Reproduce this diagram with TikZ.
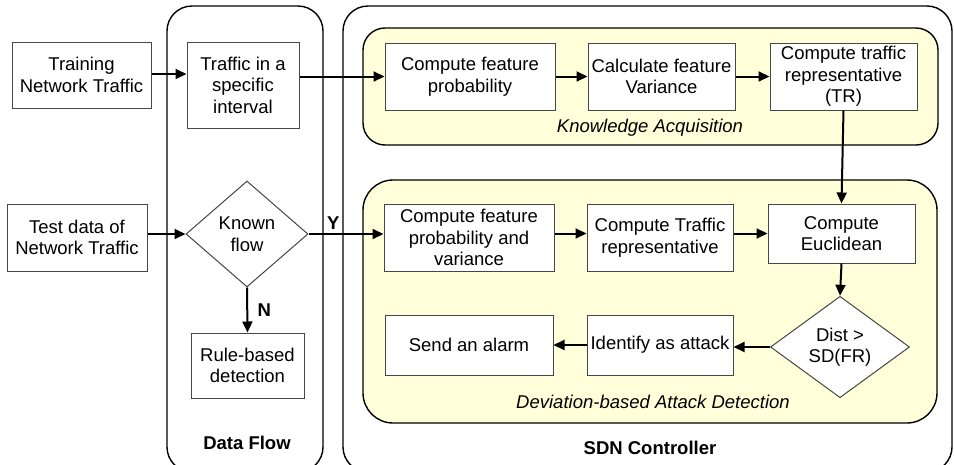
\documentclass[tikz,border=0pt]{standalone}
\usepackage{fontspec}
\setmainfont{Liberation Sans}
\usetikzlibrary{shapes.geometric,arrows.meta}
\definecolor{paleyel}{RGB}{255,255,217}
\definecolor{boxline}{RGB}{70,70,70}
\begin{document}
\begin{tikzpicture}[x=1pt,y=-1pt,
  every node/.style={font=\fontsize{18.5}{21.5}\selectfont},
  stepbox/.style={draw=boxline,line width=1pt,fill=white,rectangle,align=center,inner sep=1pt},
  decision/.style={draw=boxline,line width=1pt,fill=white,diamond,align=center,inner sep=0pt},
  container/.style={draw=black,line width=1.4pt,rounded corners=25pt},
  phase/.style={draw=black,line width=1.4pt,fill=paleyel},
  flow/.style={line width=2pt,-{Triangle[length=11pt,width=10pt]}},
  caption/.style={font=\fontsize{18.5}{21.5}\selectfont\bfseries},
  phasecap/.style={font=\fontsize{18.5}{21.5}\selectfont\itshape}
]
\useasboundingbox (0,0) rectangle (954,464);
\clip (0,0) rectangle (954,464);
% containers
\draw[container] (167,6) rectangle (323,472);
\draw[container] (343,6) rectangle (952,472);
\draw[phase,rounded corners=22pt] (363,28) rectangle (938,145);
\draw[phase,rounded corners=30pt] (363,180) rectangle (937,423);
% captions
\node[caption] (dfcap) at (247,443) {Data Flow};
\node[caption] (sdncap) at (650,448) {SDN Controller};
\node[phasecap] (kacap) at (650,128) {Knowledge Acquisition};
\node[phasecap] (devcap) at (653,402) {Deviation-based Attack Detection};
% boxes
\node[stepbox,minimum width=139pt,minimum height=66pt] (train) at (81.5,75) {Training\\Network Traffic};
\node[stepbox,minimum width=112pt,minimum height=86pt] (interval) at (243,85) {Traffic in a\\specific\\interval};
\node[stepbox,minimum width=170pt,minimum height=67pt] (cfp) at (470,76.5) {Compute feature\\probability};
\node[stepbox,minimum width=147pt,minimum height=67pt] (cfv) at (661.5,76.5) {Calculate feature\\Variance};
\node[stepbox,minimum width=147pt,minimum height=67pt] (ctr) at (843.5,76.5) {Compute traffic\\representative\\(TR)};
\node[stepbox,minimum width=140pt,minimum height=67pt] (test) at (77,237.5) {Test data of\\Network Traffic};
\node[decision,minimum width=122pt,minimum height=106pt] (known) at (247,234) {Known\\flow};
\node[stepbox,minimum width=113pt,minimum height=65pt] (rule) at (247.5,365.5) {Rule-based\\detection};
\node[stepbox,minimum width=170pt,minimum height=67pt] (cfpv) at (469,237.5) {Compute feature\\probability and\\variance};
\node[stepbox,minimum width=146pt,minimum height=67pt] (ctrep) at (660,237.5) {Compute Traffic\\representative};
\node[stepbox,minimum width=147pt,minimum height=59pt] (ceuc) at (841.5,233.5) {Compute\\Euclidean};
\node[decision,minimum width=139pt,minimum height=101pt] (dist) at (840,347) {Dist >\\SD(FR)};
\node[stepbox,minimum width=146pt,minimum height=60pt] (ident) at (660,345) {Identify as attack};
\node[stepbox,minimum width=168pt,minimum height=60pt] (alarm) at (469,345) {Send an alarm};
% connectors
\coordinate (a1) at (151,74);
\draw[flow] (train.east |- a1) -- (a1 -| interval.west);
\draw[flow] (interval.east |- cfp.west) -- (cfp.west);
\draw[flow] (cfp) -- (cfv);
\draw[flow] (cfv) -- (ctr);
\draw[flow] (ctr.south) -- (ceuc.north);
\draw[flow] (test.east |- known.west) -- (known.west);
\draw[flow] (known.east) -- (known.east -| cfpv.west) node[pos=0.33,above,caption] (ylab) {Y};
\draw[flow] (known.south) -- (rule.north) node[midway,right,caption,xshift=6pt] (nlab) {N};
\draw[flow] (cfpv.east |- ceuc.west) -- (ctrep.west |- ceuc.west);
\draw[flow] (ctrep.east |- ceuc.west) -- (ceuc.west);
\draw[flow] (ceuc.south) -- (dist.north);
\draw[flow] (dist.west) -- (dist.west -| ident.east);
\draw[flow] (ident.west) -- (alarm.east);
\end{tikzpicture}
\end{document}
